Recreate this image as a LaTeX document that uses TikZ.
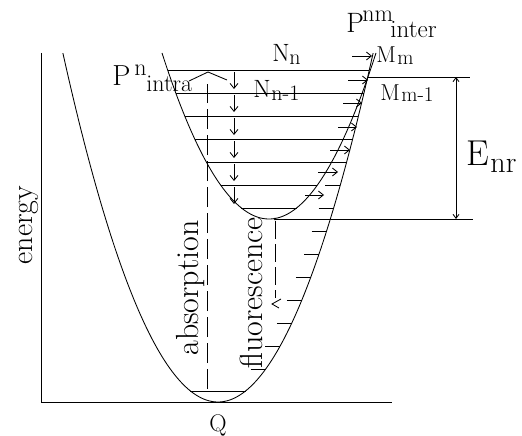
\documentclass[tikz,border=0pt]{standalone}
\usepackage{fontspec}
\usetikzlibrary{arrows.meta}
\newcommand{\fs}[1]{\fontsize{#1}{#1}\selectfont}
\begin{document}
\begin{tikzpicture}[x=1pt,y=-1pt,line width=0.85pt,
  declare function={ul(\q)=269-sqrt(219-\q)/0.12042; ur(\q)=269+sqrt(219-\q)/0.12042; lr(\q)=218+sqrt(402-\q)/0.12042;},
  rarrow/.style={-{Straight Barb[length=5pt,width=8pt]}},
  darrow/.style={-{Straight Barb[length=5pt,width=8pt]}},
  enarrow/.style={{Straight Barb[length=4pt,width=6pt]}-{Straight Barb[length=4pt,width=6pt]}},
  dashline/.style={dash pattern=on 20pt off 6pt},
  lbl/.style={inner sep=0pt,anchor=base west},
  vlbl/.style={inner sep=0pt,anchor=base,rotate=90,font=\fs{32}}]
\useasboundingbox (0,0) rectangle (522,436);
% axes
\coordinate (ytop) at (41,53);
\coordinate (orig) at (41,402);
\coordinate (xend) at (392,402);
\draw (ytop) -- (orig) -- (xend);
% lower parabola
\draw plot[domain=62.9:373.1,samples=120] (\x,{402-((\x-218)*0.12042)^2});
% upper parabola
\draw plot[domain=162:376,samples=120] (\x,{219-((\x-269)*0.12042)^2});
% ground level
\draw ({218-sqrt(11)/0.12042},391) -- ({218+sqrt(11)/0.12042},391);
% vibrational levels of upper state
\foreach \q in {70,93,116,139,162,185,208}
  \draw ({ul(\q)},\q) -- ({min(ur(\q),lr(\q))},\q);
% hatching on lower curve
\foreach \q in {70,93,...,369}
  \draw ({lr(\q)-15},\q) -- ({lr(\q)},\q);
% intra relaxation arrows
\foreach \a/\b in {72/89,95/112,118/135,141/158,164/181,187/204}
  \draw[darrow] (234,\a) -- (234,\b);
% inter crossing arrows
\foreach \q/\a/\b in {56/352/372,80/348/368,103/343/362,127/338/357,150/330/350,172/318/338,195/305/324}
  \draw[rarrow] (\a,\q) -- (\b,\q);
% E_nr
\coordinate (cross) at (367,77);
\coordinate (vtx) at (275,219);
\draw (cross) -- (470,77);
\draw (vtx) -- (473,219);
\coordinate (ea) at (456,77);
\coordinate (eb) at (456,219);
\draw[enarrow] (ea) -- (eb);
\fill (vtx) circle (1.3pt);
% absorption
\draw[dashline] (207,389) -- (207,84);
\draw (189,81) -- (208,72) -- (227,80);
% fluorescence
\draw[dash pattern=on 18pt off 5pt] (275,221) -- (275,298);
\draw (281,299) -- (272,304) -- (279,308);
% labels
\node[lbl,font=\fs{29}] (Pa) at (112,85) {P};
\node[lbl,font=\fs{24}] (Pan) at (134,75) {n};
\node[lbl,font=\fs{24}] (Pai) at (146,92) {intra};
\node[lbl,font=\fs{28}] (Pe) at (346,33) {P};
\node[lbl,font=\fs{24}] (Pen) at (362,22) {nm};
\node[lbl,font=\fs{25}] (Pei) at (390,38) {inter};
\node[lbl,font=\fs{25}] (Nn) at (272,62) {N};
\node[lbl,font=\fs{22}] (Nns) at (289,64) {n};
\node[lbl,font=\fs{25}] (Nm) at (253,97) {N};
\node[lbl,font=\fs{22}] (Nms) at (271,100) {n-1};
\node[lbl,font=\fs{23}] (Mm) at (376,63) {M};
\node[lbl,font=\fs{21}] (Mms) at (397,64) {m};
\node[lbl,font=\fs{23}] (Mk) at (380,100) {M};
\node[lbl,font=\fs{21}] (Mks) at (401,101) {m-1};
\node[lbl,font=\fs{36}] (E) at (466,165) {E};
\node[lbl,font=\fs{30}] (Es) at (490,172) {nr};
\node[inner sep=0pt,anchor=base,font=\fs{24}] (Q) at (218,431) {Q};
\node[vlbl,font=\fs{30}] (en) at (32,225) {energy};
\node[vlbl] (ab) at (198,288) {absorption};
\node[vlbl] (fl) at (262,293) {fluorescence};
\end{tikzpicture}
\end{document}
